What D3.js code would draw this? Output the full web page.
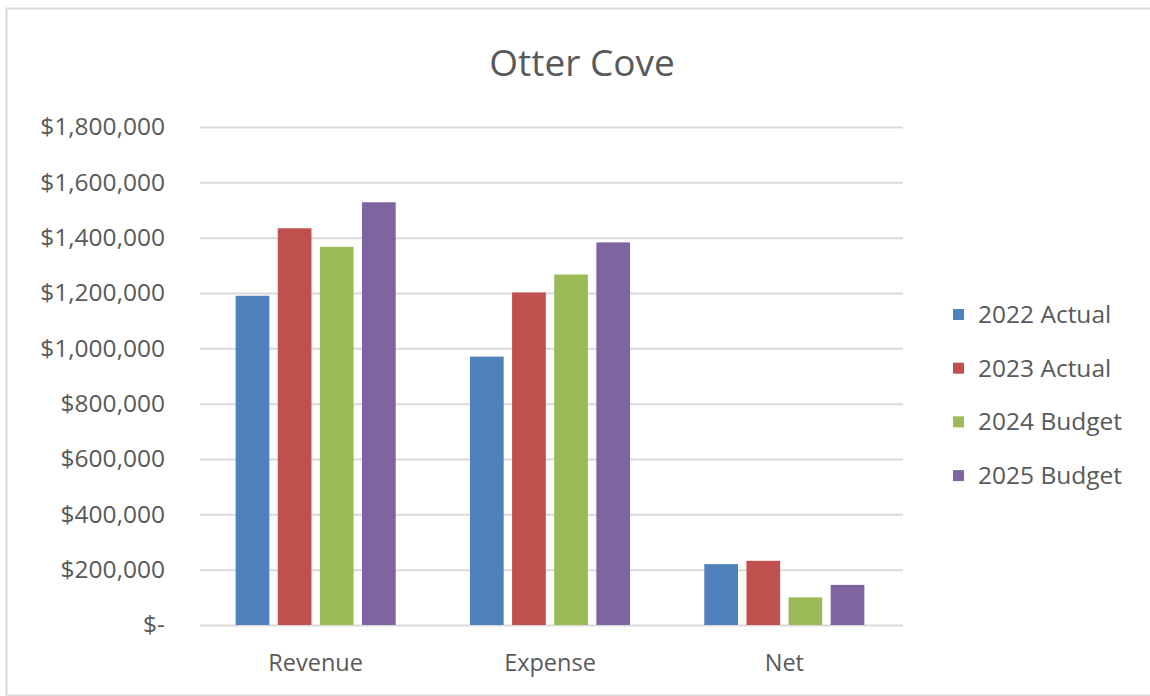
<!DOCTYPE html>
<html>
<head>
    <meta charset="UTF-8">
    <title>Otter Cove</title>
    <style>
        body { margin: 0; background-color: white; overflow: hidden; }
        svg { display: block; }
        text { font-family: "Open Sans", Lato, sans-serif; fill: #595959; }
    </style>
</head>
<body>
    <svg></svg>
    <script src="https://d3js.org/d3.v7.min.js"></script>
    <script>
        let categories = ["Revenue", "Expense", "Net"]
        let series = ["2022 Actual", "2023 Actual", "2024 Budget", "2025 Budget"]
        let colors = ["#4F81BD", "#C0504D", "#9BBB59", "#8064A2"]
        let actual2022 = [1190000, 970000, 220000]
        let actual2023 = [1434000, 1202000, 232000]
        let budget2024 = [1367000, 1267000, 100000]
        let budget2025 = [1528000, 1383000, 145000]
        let yTicks = [0, 200000, 400000, 600000, 800000, 1000000, 1200000, 1400000, 1600000, 1800000]

        let values = [actual2022, actual2023, budget2024, budget2025]

        let width = 1150, height = 696;

        let svg = d3.select("svg")
            .attr("width", width)
            .attr("height", height)

        // chart border (right side runs off the picture)
        svg.append("rect")
            .attr("x", 6.5)
            .attr("y", 8.5)
            .attr("width", 1180)
            .attr("height", 687)
            .attr("fill", "white")
            .attr("stroke", "#d9d9d9")
            .attr("stroke-width", 2)

        let x0 = d3.scaleBand()
            .domain(categories)
            .range([198.5, 901.5])
            .paddingInner(0.317)
            .paddingOuter(0.1585)

        let x1 = d3.scaleBand()
            .domain(series)
            .range([0, x0.bandwidth()])
            .paddingInner(0.2)

        let y = d3.scaleLinear()
            .domain([0, 1800000])
            .range([625, 127])

        let color = d3.scaleOrdinal(series, colors)

        let fmt = d3.format("$,")

        // gridlines + y labels
        let yAxis = d3.axisLeft(y)
            .tickValues(yTicks)
            .tickSize(-703)
            .tickPadding(35)
            .tickFormat(d => d == 0 ? "$-" : fmt(d))

        let gy = svg.append("g")
            .attr("transform", "translate(200,0)")
            .call(yAxis)
        gy.select(".domain").remove()
        gy.selectAll("line")
            .attr("stroke", "#d9d9d9")
            .attr("stroke-width", 2)
        gy.selectAll("text")
            .style("font-family", "'Open Sans', sans-serif")
            .attr("font-size", 24.5)
            .attr("fill", "#595959")

        // bars
        let rows = []
        categories.forEach((c, i) => {
            series.forEach((s, j) => {
                rows.push({ cat: c, ser: s, val: values[j][i] })
            })
        })

        svg.append("g")
            .selectAll("rect")
            .data(rows)
            .enter()
            .append("rect")
            .attr("x", d => x0(d.cat) + x1(d.ser))
            .attr("y", d => y(d.val))
            .attr("width", x1.bandwidth())
            .attr("height", d => y(0) - y(d.val))
            .attr("fill", d => color(d.ser))

        // x labels
        svg.append("g")
            .selectAll("text")
            .data(categories)
            .enter()
            .append("text")
            .attr("x", d => x0(d) + x0.bandwidth() / 2)
            .attr("y", 671)
            .attr("text-anchor", "middle")
            .attr("font-size", 23.5)
            .text(d => d)

        // title
        svg.append("text")
            .attr("x", 582)
            .attr("y", 76)
            .attr("text-anchor", "middle")
            .attr("font-size", 37)
            .text("Otter Cove")

        // legend
        let legend = svg.append("g")
            .selectAll("g")
            .data(series)
            .enter()
            .append("g")
            .attr("transform", (d, i) => "translate(953," + (314 + i * 53.7) + ")")

        legend.append("rect")
            .attr("x", 0)
            .attr("y", -5)
            .attr("width", 11)
            .attr("height", 11)
            .attr("fill", d => color(d))

        legend.append("text")
            .attr("x", 25)
            .attr("y", 9)
            .attr("font-size", 24.5)
            .text(d => d)
    </script>
</body>
</html>
